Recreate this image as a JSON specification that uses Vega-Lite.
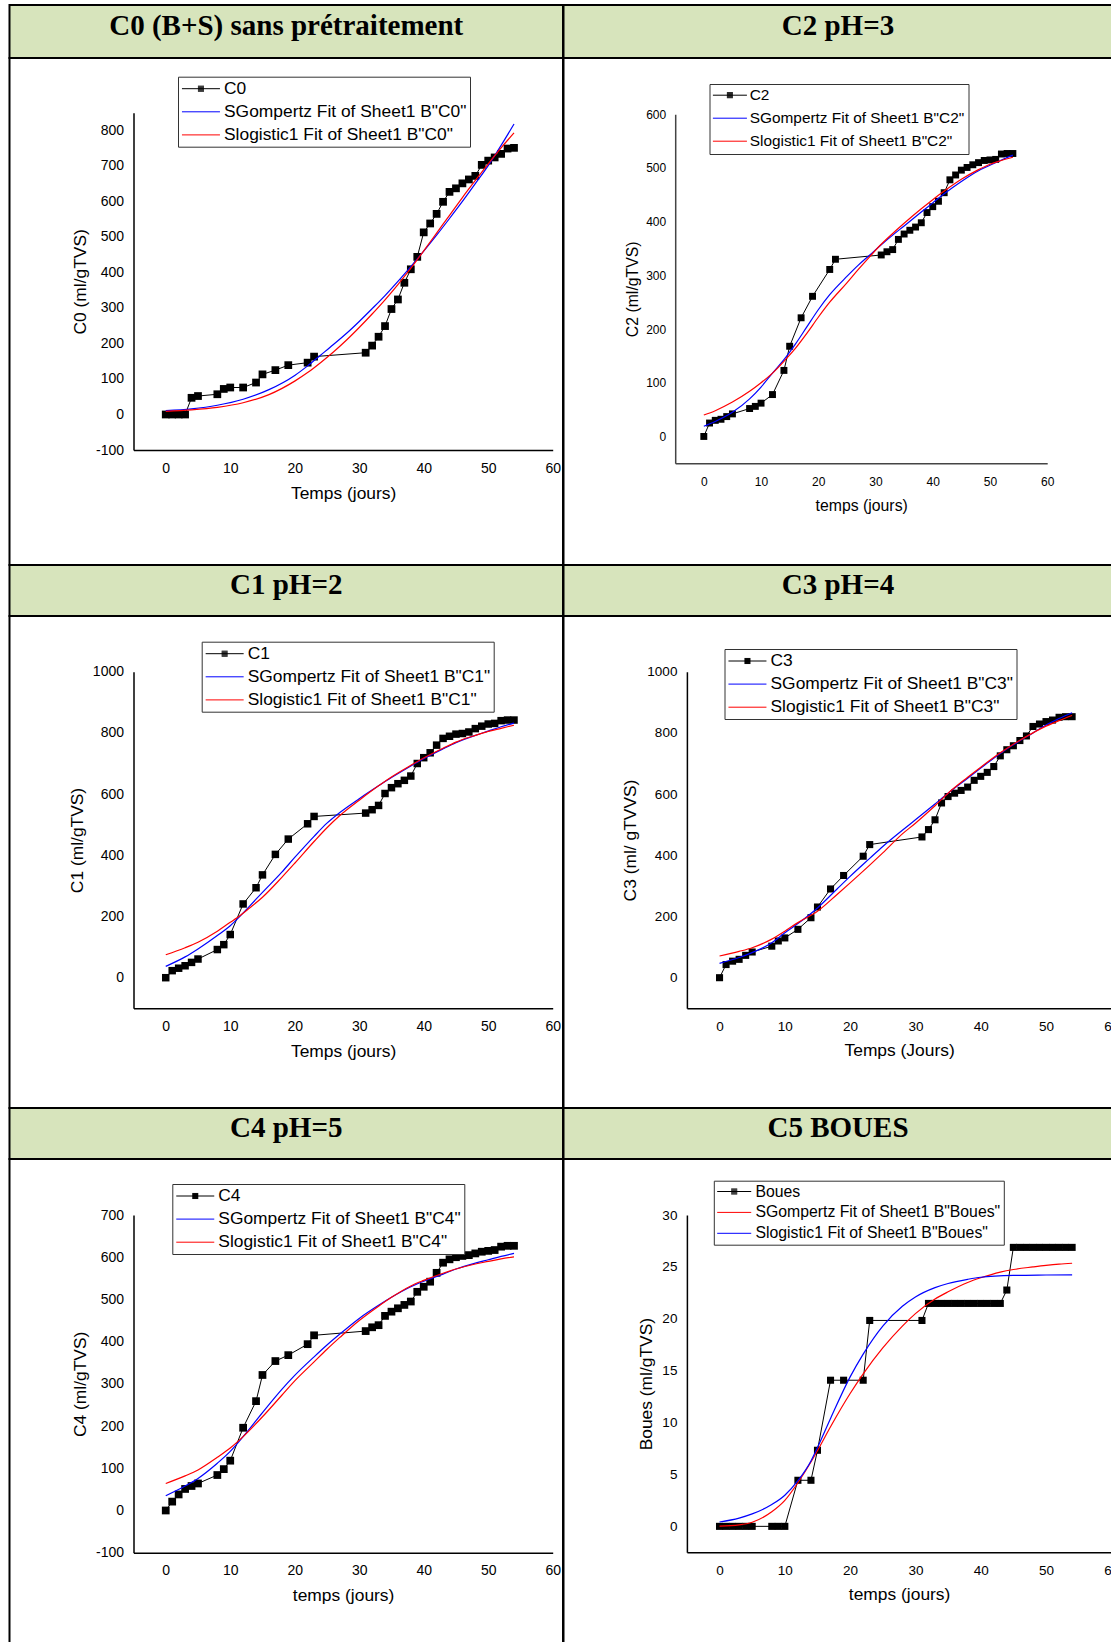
{
  "$schema": "https://vega.github.io/schema/vega-lite/v6.json",
  "background": "white",
  "padding": {"left": 8.5, "top": 4, "right": 0, "bottom": 0},
  "columns": 2,
  "spacing": 0,
  "align": "each",
  "bounds": "flush",
  "resolve": {"scale": {"color": "independent"}, "legend": {"color": "independent"}},
  "config": {
    "view": {"stroke": null},
    "axis": {"grid": false, "ticks": false, "tickSize": 0, "domainColor": "#000", "domainWidth": 1.5, "labelColor": "#000", "labelFont": "Liberation Sans", "labelFontSize": 14, "titleFont": "Liberation Sans", "titleFontWeight": "normal", "titleFontSize": 17.4, "titleColor": "#000", "labelFlush": false, "labelOverlap": false, "labelBound": false},
    "axisX": {"labelPadding": 11, "titlePadding": 9},
    "axisY": {"labelPadding": 10, "titlePadding": 6},
    "legend": {"labelFont": "Liberation Sans", "labelColor": "#000", "labelLimit": 500, "strokeColor": "#333", "fillColor": "#fff", "symbolStrokeWidth": 1, "symbolOpacity": 1}
  },
  "datasets": {
    "c0": [
      {"t":0,"v":0,"s":"data"},{"t":1,"v":0,"s":"data"},{"t":2,"v":0,"s":"data"},{"t":3,"v":0,"s":"data"},{"t":4,"v":47,"s":"data"},{"t":5,"v":52,"s":"data"},{"t":8,"v":57,"s":"data"},{"t":9,"v":72,"s":"data"},{"t":10,"v":76,"s":"data"},{"t":12,"v":76,"s":"data"},{"t":14,"v":90,"s":"data"},{"t":15,"v":113,"s":"data"},{"t":17,"v":125,"s":"data"},{"t":19,"v":139,"s":"data"},{"t":22,"v":146,"s":"data"},{"t":23,"v":163,"s":"data"},{"t":31,"v":174,"s":"data"},{"t":32,"v":194,"s":"data"},{"t":33,"v":219,"s":"data"},{"t":34,"v":249,"s":"data"},{"t":35,"v":297,"s":"data"},{"t":36,"v":324,"s":"data"},{"t":37,"v":371,"s":"data"},{"t":38,"v":409,"s":"data"},{"t":39,"v":444,"s":"data"},{"t":40,"v":513,"s":"data"},{"t":41,"v":538,"s":"data"},{"t":42,"v":565,"s":"data"},{"t":43,"v":599,"s":"data"},{"t":44,"v":627,"s":"data"},{"t":45,"v":637,"s":"data"},{"t":46,"v":651,"s":"data"},{"t":47,"v":662,"s":"data"},{"t":48,"v":672,"s":"data"},{"t":49,"v":703,"s":"data"},{"t":50,"v":715,"s":"data"},{"t":51,"v":724,"s":"data"},{"t":52,"v":734,"s":"data"},{"t":53,"v":749,"s":"data"},{"t":54,"v":751,"s":"data"},
      {"t":0,"v":11,"s":"SGompertz"},{"t":4,"v":16,"s":"SGompertz"},{"t":8,"v":26,"s":"SGompertz"},{"t":12,"v":43,"s":"SGompertz"},{"t":16,"v":70,"s":"SGompertz"},{"t":20,"v":110,"s":"SGompertz"},{"t":22,"v":137,"s":"SGompertz"},{"t":24,"v":167,"s":"SGompertz"},{"t":26,"v":197,"s":"SGompertz"},{"t":28,"v":228,"s":"SGompertz"},{"t":30,"v":262,"s":"SGompertz"},{"t":32,"v":298,"s":"SGompertz"},{"t":34,"v":335,"s":"SGompertz"},{"t":36,"v":375,"s":"SGompertz"},{"t":37.5,"v":406,"s":"SGompertz"},{"t":40,"v":460,"s":"SGompertz"},{"t":42,"v":505,"s":"SGompertz"},{"t":44,"v":552,"s":"SGompertz"},{"t":46,"v":600,"s":"SGompertz"},{"t":48,"v":650,"s":"SGompertz"},{"t":50,"v":701,"s":"SGompertz"},{"t":52,"v":758,"s":"SGompertz"},{"t":54,"v":818,"s":"SGompertz"},
      {"t":0,"v":9,"s":"Slogistic1"},{"t":4,"v":13,"s":"Slogistic1"},{"t":8,"v":20,"s":"Slogistic1"},{"t":12,"v":33,"s":"Slogistic1"},{"t":16,"v":56,"s":"Slogistic1"},{"t":20,"v":94,"s":"Slogistic1"},{"t":22,"v":118,"s":"Slogistic1"},{"t":24,"v":146,"s":"Slogistic1"},{"t":26,"v":176,"s":"Slogistic1"},{"t":28,"v":209,"s":"Slogistic1"},{"t":30,"v":245,"s":"Slogistic1"},{"t":32,"v":283,"s":"Slogistic1"},{"t":34,"v":323,"s":"Slogistic1"},{"t":36,"v":366,"s":"Slogistic1"},{"t":37.5,"v":400,"s":"Slogistic1"},{"t":40,"v":461,"s":"Slogistic1"},{"t":42,"v":511,"s":"Slogistic1"},{"t":44,"v":561,"s":"Slogistic1"},{"t":46,"v":611,"s":"Slogistic1"},{"t":48,"v":659,"s":"Slogistic1"},{"t":50,"v":706,"s":"Slogistic1"},{"t":52,"v":751,"s":"Slogistic1"},{"t":54,"v":793,"s":"Slogistic1"}
    ],
    "c2": [
      {"t":0,"v":0,"s":"data"},{"t":1,"v":25,"s":"data"},{"t":2,"v":30,"s":"data"},{"t":3,"v":32,"s":"data"},{"t":4,"v":37,"s":"data"},{"t":5,"v":42,"s":"data"},{"t":8,"v":52,"s":"data"},{"t":9,"v":56,"s":"data"},{"t":10,"v":62,"s":"data"},{"t":12,"v":78,"s":"data"},{"t":14,"v":123,"s":"data"},{"t":15,"v":168,"s":"data"},{"t":17,"v":221,"s":"data"},{"t":19,"v":261,"s":"data"},{"t":22,"v":311,"s":"data"},{"t":23,"v":330,"s":"data"},{"t":31,"v":338,"s":"data"},{"t":32,"v":344,"s":"data"},{"t":33,"v":348,"s":"data"},{"t":34,"v":367,"s":"data"},{"t":35,"v":377,"s":"data"},{"t":36,"v":384,"s":"data"},{"t":37,"v":390,"s":"data"},{"t":38,"v":398,"s":"data"},{"t":39,"v":417,"s":"data"},{"t":40,"v":428,"s":"data"},{"t":41,"v":438,"s":"data"},{"t":42,"v":454,"s":"data"},{"t":43,"v":478,"s":"data"},{"t":44,"v":487,"s":"data"},{"t":45,"v":496,"s":"data"},{"t":46,"v":501,"s":"data"},{"t":47,"v":506,"s":"data"},{"t":48,"v":510,"s":"data"},{"t":49,"v":514,"s":"data"},{"t":50,"v":515,"s":"data"},{"t":51,"v":516,"s":"data"},{"t":52,"v":526,"s":"data"},{"t":53,"v":527,"s":"data"},{"t":54,"v":527,"s":"data"},
      {"t":0,"v":19,"s":"SGompertz"},{"t":2,"v":28,"s":"SGompertz"},{"t":5,"v":45,"s":"SGompertz"},{"t":8,"v":70,"s":"SGompertz"},{"t":10,"v":92,"s":"SGompertz"},{"t":12,"v":118,"s":"SGompertz"},{"t":14,"v":143,"s":"SGompertz"},{"t":16,"v":172,"s":"SGompertz"},{"t":18,"v":204,"s":"SGompertz"},{"t":20,"v":236,"s":"SGompertz"},{"t":22,"v":264,"s":"SGompertz"},{"t":25,"v":298,"s":"SGompertz"},{"t":27,"v":319,"s":"SGompertz"},{"t":29,"v":338,"s":"SGompertz"},{"t":31,"v":357,"s":"SGompertz"},{"t":33,"v":375,"s":"SGompertz"},{"t":35,"v":392,"s":"SGompertz"},{"t":38,"v":418,"s":"SGompertz"},{"t":40,"v":435,"s":"SGompertz"},{"t":42,"v":452,"s":"SGompertz"},{"t":45,"v":475,"s":"SGompertz"},{"t":48,"v":495,"s":"SGompertz"},{"t":50,"v":505,"s":"SGompertz"},{"t":52,"v":515,"s":"SGompertz"},{"t":54,"v":524,"s":"SGompertz"},
      {"t":0,"v":40,"s":"Slogistic1"},{"t":2,"v":48,"s":"Slogistic1"},{"t":5,"v":64,"s":"Slogistic1"},{"t":8,"v":84,"s":"Slogistic1"},{"t":10,"v":100,"s":"Slogistic1"},{"t":12,"v":118,"s":"Slogistic1"},{"t":14,"v":140,"s":"Slogistic1"},{"t":16,"v":164,"s":"Slogistic1"},{"t":18,"v":192,"s":"Slogistic1"},{"t":20,"v":222,"s":"Slogistic1"},{"t":22,"v":250,"s":"Slogistic1"},{"t":25,"v":286,"s":"Slogistic1"},{"t":27,"v":311,"s":"Slogistic1"},{"t":29,"v":335,"s":"Slogistic1"},{"t":31,"v":358,"s":"Slogistic1"},{"t":33,"v":378,"s":"Slogistic1"},{"t":35,"v":397,"s":"Slogistic1"},{"t":38,"v":424,"s":"Slogistic1"},{"t":40,"v":441,"s":"Slogistic1"},{"t":42,"v":457,"s":"Slogistic1"},{"t":45,"v":479,"s":"Slogistic1"},{"t":48,"v":497,"s":"Slogistic1"},{"t":50,"v":507,"s":"Slogistic1"},{"t":52,"v":514,"s":"Slogistic1"},{"t":54,"v":520,"s":"Slogistic1"}
    ],
    "c1": [
      {"t":0,"v":0,"s":"data"},{"t":1,"v":23,"s":"data"},{"t":2,"v":31,"s":"data"},{"t":3,"v":39,"s":"data"},{"t":4,"v":50,"s":"data"},{"t":5,"v":61,"s":"data"},{"t":8,"v":92,"s":"data"},{"t":9,"v":108,"s":"data"},{"t":10,"v":141,"s":"data"},{"t":12,"v":241,"s":"data"},{"t":14,"v":294,"s":"data"},{"t":15,"v":336,"s":"data"},{"t":17,"v":403,"s":"data"},{"t":19,"v":453,"s":"data"},{"t":22,"v":503,"s":"data"},{"t":23,"v":527,"s":"data"},{"t":31,"v":538,"s":"data"},{"t":32,"v":549,"s":"data"},{"t":33,"v":563,"s":"data"},{"t":34,"v":602,"s":"data"},{"t":35,"v":621,"s":"data"},{"t":36,"v":634,"s":"data"},{"t":37,"v":645,"s":"data"},{"t":38,"v":659,"s":"data"},{"t":39,"v":700,"s":"data"},{"t":40,"v":719,"s":"data"},{"t":41,"v":735,"s":"data"},{"t":42,"v":760,"s":"data"},{"t":43,"v":782,"s":"data"},{"t":44,"v":789,"s":"data"},{"t":45,"v":796,"s":"data"},{"t":46,"v":798,"s":"data"},{"t":47,"v":803,"s":"data"},{"t":48,"v":814,"s":"data"},{"t":49,"v":822,"s":"data"},{"t":50,"v":829,"s":"data"},{"t":51,"v":831,"s":"data"},{"t":52,"v":840,"s":"data"},{"t":53,"v":842,"s":"data"},{"t":54,"v":842,"s":"data"},
      {"t":0,"v":37,"s":"SGompertz"},{"t":3,"v":68,"s":"SGompertz"},{"t":5,"v":94,"s":"SGompertz"},{"t":8,"v":138,"s":"SGompertz"},{"t":10,"v":170,"s":"SGompertz"},{"t":11,"v":190,"s":"SGompertz"},{"t":13,"v":234,"s":"SGompertz"},{"t":15,"v":279,"s":"SGompertz"},{"t":18,"v":345,"s":"SGompertz"},{"t":20,"v":393,"s":"SGompertz"},{"t":23,"v":462,"s":"SGompertz"},{"t":25,"v":505,"s":"SGompertz"},{"t":27,"v":540,"s":"SGompertz"},{"t":30,"v":585,"s":"SGompertz"},{"t":33,"v":627,"s":"SGompertz"},{"t":35,"v":654,"s":"SGompertz"},{"t":38,"v":692,"s":"SGompertz"},{"t":40,"v":716,"s":"SGompertz"},{"t":43,"v":748,"s":"SGompertz"},{"t":45,"v":768,"s":"SGompertz"},{"t":48,"v":792,"s":"SGompertz"},{"t":50,"v":806,"s":"SGompertz"},{"t":52,"v":820,"s":"SGompertz"},{"t":54,"v":832,"s":"SGompertz"},
      {"t":0,"v":75,"s":"Slogistic1"},{"t":3,"v":98,"s":"Slogistic1"},{"t":5,"v":116,"s":"Slogistic1"},{"t":8,"v":152,"s":"Slogistic1"},{"t":10,"v":181,"s":"Slogistic1"},{"t":11,"v":195,"s":"Slogistic1"},{"t":13,"v":228,"s":"Slogistic1"},{"t":15,"v":263,"s":"Slogistic1"},{"t":18,"v":328,"s":"Slogistic1"},{"t":20,"v":374,"s":"Slogistic1"},{"t":23,"v":445,"s":"Slogistic1"},{"t":25,"v":490,"s":"Slogistic1"},{"t":27,"v":530,"s":"Slogistic1"},{"t":30,"v":580,"s":"Slogistic1"},{"t":33,"v":627,"s":"Slogistic1"},{"t":35,"v":656,"s":"Slogistic1"},{"t":38,"v":694,"s":"Slogistic1"},{"t":40,"v":718,"s":"Slogistic1"},{"t":43,"v":750,"s":"Slogistic1"},{"t":45,"v":770,"s":"Slogistic1"},{"t":48,"v":792,"s":"Slogistic1"},{"t":50,"v":805,"s":"Slogistic1"},{"t":52,"v":815,"s":"Slogistic1"},{"t":54,"v":825,"s":"Slogistic1"}
    ],
    "c3": [
      {"t":0,"v":0,"s":"data"},{"t":1,"v":43,"s":"data"},{"t":2,"v":54,"s":"data"},{"t":3,"v":60,"s":"data"},{"t":4,"v":73,"s":"data"},{"t":5,"v":84,"s":"data"},{"t":8,"v":103,"s":"data"},{"t":9,"v":120,"s":"data"},{"t":10,"v":130,"s":"data"},{"t":12,"v":158,"s":"data"},{"t":14,"v":196,"s":"data"},{"t":15,"v":231,"s":"data"},{"t":17,"v":290,"s":"data"},{"t":19,"v":334,"s":"data"},{"t":22,"v":397,"s":"data"},{"t":23,"v":435,"s":"data"},{"t":31,"v":460,"s":"data"},{"t":32,"v":484,"s":"data"},{"t":33,"v":516,"s":"data"},{"t":34,"v":571,"s":"data"},{"t":35,"v":592,"s":"data"},{"t":36,"v":603,"s":"data"},{"t":37,"v":612,"s":"data"},{"t":38,"v":623,"s":"data"},{"t":39,"v":645,"s":"data"},{"t":40,"v":658,"s":"data"},{"t":41,"v":671,"s":"data"},{"t":42,"v":690,"s":"data"},{"t":43,"v":725,"s":"data"},{"t":44,"v":745,"s":"data"},{"t":45,"v":758,"s":"data"},{"t":46,"v":775,"s":"data"},{"t":47,"v":790,"s":"data"},{"t":48,"v":821,"s":"data"},{"t":49,"v":829,"s":"data"},{"t":50,"v":837,"s":"data"},{"t":51,"v":842,"s":"data"},{"t":52,"v":851,"s":"data"},{"t":53,"v":853,"s":"data"},{"t":54,"v":853,"s":"data"},
      {"t":0,"v":47,"s":"SGompertz"},{"t":3,"v":66,"s":"SGompertz"},{"t":5,"v":82,"s":"SGompertz"},{"t":8,"v":114,"s":"SGompertz"},{"t":10,"v":147,"s":"SGompertz"},{"t":12,"v":177,"s":"SGompertz"},{"t":15,"v":228,"s":"SGompertz"},{"t":18,"v":290,"s":"SGompertz"},{"t":20,"v":331,"s":"SGompertz"},{"t":23,"v":390,"s":"SGompertz"},{"t":25,"v":429,"s":"SGompertz"},{"t":28,"v":482,"s":"SGompertz"},{"t":30,"v":516,"s":"SGompertz"},{"t":33,"v":568,"s":"SGompertz"},{"t":35,"v":603,"s":"SGompertz"},{"t":38,"v":652,"s":"SGompertz"},{"t":40,"v":685,"s":"SGompertz"},{"t":43,"v":733,"s":"SGompertz"},{"t":45,"v":761,"s":"SGompertz"},{"t":48,"v":800,"s":"SGompertz"},{"t":50,"v":826,"s":"SGompertz"},{"t":52,"v":847,"s":"SGompertz"},{"t":54,"v":866,"s":"SGompertz"},
      {"t":0,"v":71,"s":"Slogistic1"},{"t":3,"v":86,"s":"Slogistic1"},{"t":5,"v":98,"s":"Slogistic1"},{"t":8,"v":126,"s":"Slogistic1"},{"t":10,"v":152,"s":"Slogistic1"},{"t":12,"v":180,"s":"Slogistic1"},{"t":15,"v":217,"s":"Slogistic1"},{"t":18,"v":272,"s":"Slogistic1"},{"t":20,"v":310,"s":"Slogistic1"},{"t":23,"v":368,"s":"Slogistic1"},{"t":25,"v":408,"s":"Slogistic1"},{"t":28,"v":470,"s":"Slogistic1"},{"t":30,"v":505,"s":"Slogistic1"},{"t":33,"v":562,"s":"Slogistic1"},{"t":35,"v":603,"s":"Slogistic1"},{"t":38,"v":655,"s":"Slogistic1"},{"t":40,"v":688,"s":"Slogistic1"},{"t":43,"v":735,"s":"Slogistic1"},{"t":45,"v":763,"s":"Slogistic1"},{"t":48,"v":800,"s":"Slogistic1"},{"t":50,"v":822,"s":"Slogistic1"},{"t":52,"v":840,"s":"Slogistic1"},{"t":54,"v":857,"s":"Slogistic1"}
    ],
    "c4": [
      {"t":0,"v":0,"s":"data"},{"t":1,"v":21,"s":"data"},{"t":2,"v":38,"s":"data"},{"t":3,"v":51,"s":"data"},{"t":4,"v":58,"s":"data"},{"t":5,"v":64,"s":"data"},{"t":8,"v":84,"s":"data"},{"t":9,"v":98,"s":"data"},{"t":10,"v":118,"s":"data"},{"t":12,"v":196,"s":"data"},{"t":14,"v":259,"s":"data"},{"t":15,"v":321,"s":"data"},{"t":17,"v":354,"s":"data"},{"t":19,"v":368,"s":"data"},{"t":22,"v":394,"s":"data"},{"t":23,"v":415,"s":"data"},{"t":31,"v":425,"s":"data"},{"t":32,"v":434,"s":"data"},{"t":33,"v":439,"s":"data"},{"t":34,"v":461,"s":"data"},{"t":35,"v":471,"s":"data"},{"t":36,"v":479,"s":"data"},{"t":37,"v":487,"s":"data"},{"t":38,"v":495,"s":"data"},{"t":39,"v":518,"s":"data"},{"t":40,"v":530,"s":"data"},{"t":41,"v":542,"s":"data"},{"t":42,"v":563,"s":"data"},{"t":43,"v":587,"s":"data"},{"t":44,"v":595,"s":"data"},{"t":45,"v":600,"s":"data"},{"t":46,"v":603,"s":"data"},{"t":47,"v":605,"s":"data"},{"t":48,"v":609,"s":"data"},{"t":49,"v":613,"s":"data"},{"t":50,"v":615,"s":"data"},{"t":51,"v":617,"s":"data"},{"t":52,"v":625,"s":"data"},{"t":53,"v":627,"s":"data"},{"t":54,"v":627,"s":"data"},
      {"t":0,"v":35,"s":"SGompertz"},{"t":3,"v":58,"s":"SGompertz"},{"t":5,"v":76,"s":"SGompertz"},{"t":8,"v":112,"s":"SGompertz"},{"t":10,"v":140,"s":"SGompertz"},{"t":12,"v":175,"s":"SGompertz"},{"t":15,"v":232,"s":"SGompertz"},{"t":18,"v":287,"s":"SGompertz"},{"t":20,"v":320,"s":"SGompertz"},{"t":23,"v":364,"s":"SGompertz"},{"t":25,"v":392,"s":"SGompertz"},{"t":27,"v":418,"s":"SGompertz"},{"t":30,"v":455,"s":"SGompertz"},{"t":33,"v":486,"s":"SGompertz"},{"t":35,"v":505,"s":"SGompertz"},{"t":38,"v":530,"s":"SGompertz"},{"t":40,"v":543,"s":"SGompertz"},{"t":43,"v":560,"s":"SGompertz"},{"t":45,"v":572,"s":"SGompertz"},{"t":48,"v":586,"s":"SGompertz"},{"t":50,"v":594,"s":"SGompertz"},{"t":52,"v":602,"s":"SGompertz"},{"t":54,"v":609,"s":"SGompertz"},
      {"t":0,"v":64,"s":"Slogistic1"},{"t":3,"v":82,"s":"Slogistic1"},{"t":5,"v":96,"s":"Slogistic1"},{"t":8,"v":126,"s":"Slogistic1"},{"t":10,"v":148,"s":"Slogistic1"},{"t":12,"v":175,"s":"Slogistic1"},{"t":15,"v":222,"s":"Slogistic1"},{"t":18,"v":273,"s":"Slogistic1"},{"t":20,"v":307,"s":"Slogistic1"},{"t":23,"v":352,"s":"Slogistic1"},{"t":25,"v":382,"s":"Slogistic1"},{"t":27,"v":410,"s":"Slogistic1"},{"t":30,"v":450,"s":"Slogistic1"},{"t":33,"v":484,"s":"Slogistic1"},{"t":35,"v":505,"s":"Slogistic1"},{"t":38,"v":532,"s":"Slogistic1"},{"t":40,"v":545,"s":"Slogistic1"},{"t":43,"v":562,"s":"Slogistic1"},{"t":45,"v":572,"s":"Slogistic1"},{"t":48,"v":584,"s":"Slogistic1"},{"t":50,"v":590,"s":"Slogistic1"},{"t":52,"v":596,"s":"Slogistic1"},{"t":54,"v":601,"s":"Slogistic1"}
    ],
    "c5": [
      {"t":0,"v":0,"s":"data"},{"t":1,"v":0,"s":"data"},{"t":2,"v":0,"s":"data"},{"t":3,"v":0,"s":"data"},{"t":4,"v":0,"s":"data"},{"t":5,"v":0,"s":"data"},{"t":8,"v":0,"s":"data"},{"t":9,"v":0,"s":"data"},{"t":10,"v":0,"s":"data"},{"t":12,"v":4.44,"s":"data"},{"t":14,"v":4.44,"s":"data"},{"t":15,"v":7.33,"s":"data"},{"t":17,"v":14.08,"s":"data"},{"t":19,"v":14.08,"s":"data"},{"t":22,"v":14.08,"s":"data"},{"t":23,"v":19.84,"s":"data"},{"t":31,"v":19.84,"s":"data"},{"t":32,"v":21.48,"s":"data"},{"t":33,"v":21.48,"s":"data"},{"t":34,"v":21.48,"s":"data"},{"t":35,"v":21.48,"s":"data"},{"t":36,"v":21.48,"s":"data"},{"t":37,"v":21.48,"s":"data"},{"t":38,"v":21.48,"s":"data"},{"t":39,"v":21.48,"s":"data"},{"t":40,"v":21.48,"s":"data"},{"t":41,"v":21.48,"s":"data"},{"t":42,"v":21.48,"s":"data"},{"t":43,"v":21.48,"s":"data"},{"t":44,"v":22.77,"s":"data"},{"t":45,"v":26.88,"s":"data"},{"t":46,"v":26.88,"s":"data"},{"t":47,"v":26.88,"s":"data"},{"t":48,"v":26.88,"s":"data"},{"t":49,"v":26.88,"s":"data"},{"t":50,"v":26.88,"s":"data"},{"t":51,"v":26.88,"s":"data"},{"t":52,"v":26.88,"s":"data"},{"t":53,"v":26.88,"s":"data"},{"t":54,"v":26.88,"s":"data"},
      {"t":0,"v":0.03,"s":"SGompertz"},{"t":3,"v":0.15,"s":"SGompertz"},{"t":5,"v":0.4,"s":"SGompertz"},{"t":8,"v":1.4,"s":"SGompertz"},{"t":10,"v":2.5,"s":"SGompertz"},{"t":12,"v":4.2,"s":"SGompertz"},{"t":14,"v":6.2,"s":"SGompertz"},{"t":15,"v":7.3,"s":"SGompertz"},{"t":17,"v":9.6,"s":"SGompertz"},{"t":20,"v":12.8,"s":"SGompertz"},{"t":22,"v":14.7,"s":"SGompertz"},{"t":25,"v":17.2,"s":"SGompertz"},{"t":28,"v":19.3,"s":"SGompertz"},{"t":30,"v":20.5,"s":"SGompertz"},{"t":33,"v":21.9,"s":"SGompertz"},{"t":35,"v":22.6,"s":"SGompertz"},{"t":38,"v":23.5,"s":"SGompertz"},{"t":40,"v":23.95,"s":"SGompertz"},{"t":43,"v":24.5,"s":"SGompertz"},{"t":45,"v":24.75,"s":"SGompertz"},{"t":48,"v":25.0,"s":"SGompertz"},{"t":50,"v":25.15,"s":"SGompertz"},{"t":52,"v":25.27,"s":"SGompertz"},{"t":54,"v":25.35,"s":"SGompertz"},
      {"t":0,"v":0.42,"s":"Slogistic1"},{"t":3,"v":0.8,"s":"Slogistic1"},{"t":5,"v":1.2,"s":"Slogistic1"},{"t":8,"v":2.1,"s":"Slogistic1"},{"t":10,"v":3.0,"s":"Slogistic1"},{"t":12,"v":4.4,"s":"Slogistic1"},{"t":14,"v":6.3,"s":"Slogistic1"},{"t":15,"v":7.6,"s":"Slogistic1"},{"t":17,"v":10.4,"s":"Slogistic1"},{"t":20,"v":14.4,"s":"Slogistic1"},{"t":22,"v":16.6,"s":"Slogistic1"},{"t":25,"v":19.3,"s":"Slogistic1"},{"t":28,"v":21.2,"s":"Slogistic1"},{"t":30,"v":22.1,"s":"Slogistic1"},{"t":33,"v":23.0,"s":"Slogistic1"},{"t":35,"v":23.4,"s":"Slogistic1"},{"t":38,"v":23.8,"s":"Slogistic1"},{"t":40,"v":24.0,"s":"Slogistic1"},{"t":45,"v":24.18,"s":"Slogistic1"},{"t":50,"v":24.22,"s":"Slogistic1"},{"t":54,"v":24.24,"s":"Slogistic1"}
    ]
  },
  "concat": [
    {"width": 553.5, "height": 53, "view": {"fill": "#d7e4bc", "stroke": "#000", "strokeWidth": 2},
     "data": {"values": [{"h": "C0 (B+S) sans prétraitement"}]},
     "mark": {"type": "text", "font": "Liberation Serif", "fontWeight": "bold", "fontSize": 29, "color": "#000", "baseline": "middle", "dy": -6},
     "encoding": {"text": {"field": "h", "type": "nominal"}}},
    {"width": 549, "height": 53, "view": {"fill": "#d7e4bc", "stroke": "#000", "strokeWidth": 2},
     "data": {"values": [{"h": "C2 pH=3"}]},
     "mark": {"type": "text", "font": "Liberation Serif", "fontWeight": "bold", "fontSize": 29, "color": "#000", "baseline": "middle", "dy": -6},
     "encoding": {"text": {"field": "h", "type": "nominal"}}},
    {"width": 553.5, "height": 507, "view": {"stroke": "#000", "strokeWidth": 2, "fill": "#fff"},
     "data": {"name": "c0"},
     "encoding": {
       "x": {"field": "t", "type": "quantitative", "scale": {"domain": [-5, 60], "range": [124, 543.2], "nice": false, "zero": false},
             "axis": {"values": [0,10,20,30,40,50,60], "labelExpr": "'' + datum.value", "title": "Temps (jours)", "offset": -115}},
       "y": {"field": "v", "type": "quantitative", "scale": {"domain": [-100, 850], "range": [392, 54.7], "nice": false, "zero": false},
             "axis": {"values": [-100,0,100,200,300,400,500,600,700,800], "labelExpr": "'' + datum.value", "title": "C0 (ml/gTVS)", "offset": -124}}
     },
     "layer": [
       {"transform": [{"filter": "datum.s == 'data'"}], "mark": {"type": "line", "strokeWidth": 1},
        "encoding": {"color": {"field": "s", "type": "nominal", "scale": {"domain": ["data","SGompertz","Slogistic1"], "range": ["#000","#0000ff","#ff0000"]},
          "legend": {"orient": "none", "legendX": 168.5, "legendY": 18.7, "title": null, "labelExpr": "datum.value == 'data' ? 'C0' : datum.value + ' Fit of Sheet1 B\"C0\"'", "symbolType": {"expr": "datum.value == 'data' ? 'M-1,0H4.4M1.27,-0.36H2.13M1.27,-0.21H2.13M1.27,-0.07H2.13M1.27,0.07H2.13M1.27,0.21H2.13M1.27,0.36H2.13' : 'M-1,0H4.4'"}, "symbolSize": 198, "symbolOffset": -1, "labelOffset": 26.3, "labelFontSize": 17.4, "padding": 3.3, "rowPadding": 4.1}}}},
       {"transform": [{"filter": "datum.s == 'data'"}], "mark": {"type": "point", "shape": "square", "filled": true, "size": 60, "color": "#000", "opacity": 1, "strokeWidth": 0}},
       {"transform": [{"filter": "datum.s != 'data'"}], "mark": {"type": "line", "strokeWidth": 1.2, "interpolate": "monotone"},
        "encoding": {"color": {"field": "s", "type": "nominal", "scale": {"domain": ["data","SGompertz","Slogistic1"], "range": ["#000","#0000ff","#ff0000"]},
          "legend": {"orient": "none", "legendX": 168.5, "legendY": 18.7, "title": null, "labelExpr": "datum.value == 'data' ? 'C0' : datum.value + ' Fit of Sheet1 B\"C0\"'", "symbolType": {"expr": "datum.value == 'data' ? 'M-1,0H4.4M1.27,-0.36H2.13M1.27,-0.21H2.13M1.27,-0.07H2.13M1.27,0.07H2.13M1.27,0.21H2.13M1.27,0.36H2.13' : 'M-1,0H4.4'"}, "symbolSize": 198, "symbolOffset": -1, "labelOffset": 26.3, "labelFontSize": 17.4, "padding": 3.3, "rowPadding": 4.1}}}}
     ]},
    {"width": 549, "height": 507, "view": {"stroke": "#000", "strokeWidth": 2, "fill": "#fff"},
     "data": {"name": "c2"},
     "encoding": {
       "x": {"field": "t", "type": "quantitative", "scale": {"domain": [-5, 60], "range": [111.7, 483.7], "nice": false, "zero": false},
             "axis": {"values": [0,10,20,30,40,50,60], "labelExpr": "'' + datum.value", "title": "temps (jours)", "offset": -101.7, "labelFontSize": 12, "titleFontSize": 15.8, "labelPadding": 13, "titlePadding": 11, "domainColor": "#444"}},
       "y": {"field": "v", "type": "quantitative", "scale": {"domain": [-50, 600], "range": [405.3, 56.3], "nice": false, "zero": false},
             "axis": {"values": [0,100,200,300,400,500,600], "labelExpr": "'' + datum.value", "title": "C2 (ml/gTVS)", "offset": -111.7, "labelFontSize": 12, "titleFontSize": 15.8, "labelPadding": 9.5, "titlePadding": 5, "domainColor": "#444"}}
     },
     "layer": [
       {"transform": [{"filter": "datum.s == 'data'"}], "mark": {"type": "line", "strokeWidth": 1},
        "encoding": {"color": {"field": "s", "type": "nominal", "scale": {"domain": ["data","SGompertz","Slogistic1"], "range": ["#000","#0000ff","#ff0000"]},
          "legend": {"orient": "none", "legendX": 146, "legendY": 26, "title": null, "labelExpr": "datum.value == 'data' ? 'C2' : datum.value + ' Fit of Sheet1 B\"C2\"'", "symbolType": {"expr": "datum.value == 'data' ? 'M-1,0H4.4M1.22,-0.4H2.18M1.22,-0.24H2.18M1.22,-0.08H2.18M1.22,0.08H2.18M1.22,0.24H2.18M1.22,0.4H2.18' : 'M-1,0H4.4'"}, "symbolSize": 158.8, "symbolOffset": -1.5, "labelOffset": 22.8, "labelFontSize": 15.4, "padding": 3.5, "rowPadding": 6}}}},
       {"transform": [{"filter": "datum.s == 'data'"}], "mark": {"type": "point", "shape": "square", "filled": true, "size": 48, "color": "#000", "opacity": 1, "strokeWidth": 0}},
       {"transform": [{"filter": "datum.s != 'data'"}], "mark": {"type": "line", "strokeWidth": 1.2, "interpolate": "monotone"},
        "encoding": {"color": {"field": "s", "type": "nominal", "scale": {"domain": ["data","SGompertz","Slogistic1"], "range": ["#000","#0000ff","#ff0000"]},
          "legend": {"orient": "none", "legendX": 146, "legendY": 26, "title": null, "labelExpr": "datum.value == 'data' ? 'C2' : datum.value + ' Fit of Sheet1 B\"C2\"'", "symbolType": {"expr": "datum.value == 'data' ? 'M-1,0H4.4M1.22,-0.4H2.18M1.22,-0.24H2.18M1.22,-0.08H2.18M1.22,0.08H2.18M1.22,0.24H2.18M1.22,0.4H2.18' : 'M-1,0H4.4'"}, "symbolSize": 158.8, "symbolOffset": -1.5, "labelOffset": 22.8, "labelFontSize": 15.4, "padding": 3.5, "rowPadding": 6}}}}
     ]},
    {"width": 553.5, "height": 51, "view": {"fill": "#d7e4bc", "stroke": "#000", "strokeWidth": 2},
     "data": {"values": [{"h": "C1 pH=2"}]},
     "mark": {"type": "text", "font": "Liberation Serif", "fontWeight": "bold", "fontSize": 29, "color": "#000", "baseline": "middle", "dy": -6},
     "encoding": {"text": {"field": "h", "type": "nominal"}}},
    {"width": 549, "height": 51, "view": {"fill": "#d7e4bc", "stroke": "#000", "strokeWidth": 2},
     "data": {"values": [{"h": "C3 pH=4"}]},
     "mark": {"type": "text", "font": "Liberation Serif", "fontWeight": "bold", "fontSize": 29, "color": "#000", "baseline": "middle", "dy": -6},
     "encoding": {"text": {"field": "h", "type": "nominal"}}},
    {"width": 553.5, "height": 492, "view": {"stroke": "#000", "strokeWidth": 2, "fill": "#fff"},
     "data": {"name": "c1"},
     "encoding": {
       "x": {"field": "t", "type": "quantitative", "scale": {"domain": [-5, 60], "range": [124, 543.2], "nice": false, "zero": false},
             "axis": {"values": [0,10,20,30,40,50,60], "labelExpr": "'' + datum.value", "title": "Temps (jours)", "offset": -99.7}},
       "y": {"field": "v", "type": "quantitative", "scale": {"domain": [-100, 1000], "range": [392.3, 55.7], "nice": false, "zero": false},
             "axis": {"values": [0,200,400,600,800,1000], "labelExpr": "'' + datum.value", "title": "C1 (ml/gTVS)", "offset": -124}}
     },
     "layer": [
       {"transform": [{"filter": "datum.s == 'data'"}], "mark": {"type": "line", "strokeWidth": 1},
        "encoding": {"color": {"field": "s", "type": "nominal", "scale": {"domain": ["data","SGompertz","Slogistic1"], "range": ["#000","#0000ff","#ff0000"]},
          "legend": {"orient": "none", "legendX": 192.2, "legendY": 25.7, "title": null, "labelExpr": "datum.value == 'data' ? 'C1' : datum.value + ' Fit of Sheet1 B\"C1\"'", "symbolType": {"expr": "datum.value == 'data' ? 'M-1,0H4.4M1.27,-0.36H2.13M1.27,-0.21H2.13M1.27,-0.07H2.13M1.27,0.07H2.13M1.27,0.21H2.13M1.27,0.36H2.13' : 'M-1,0H4.4'"}, "symbolSize": 198, "symbolOffset": -1, "labelOffset": 26.3, "labelFontSize": 17.4, "padding": 3.3, "rowPadding": 4.1}}}},
       {"transform": [{"filter": "datum.s == 'data'"}], "mark": {"type": "point", "shape": "square", "filled": true, "size": 56, "color": "#000", "opacity": 1, "strokeWidth": 0}},
       {"transform": [{"filter": "datum.s != 'data'"}], "mark": {"type": "line", "strokeWidth": 1.2, "interpolate": "monotone"},
        "encoding": {"color": {"field": "s", "type": "nominal", "scale": {"domain": ["data","SGompertz","Slogistic1"], "range": ["#000","#0000ff","#ff0000"]},
          "legend": {"orient": "none", "legendX": 192.2, "legendY": 25.7, "title": null, "labelExpr": "datum.value == 'data' ? 'C1' : datum.value + ' Fit of Sheet1 B\"C1\"'", "symbolType": {"expr": "datum.value == 'data' ? 'M-1,0H4.4M1.27,-0.36H2.13M1.27,-0.21H2.13M1.27,-0.07H2.13M1.27,0.07H2.13M1.27,0.21H2.13M1.27,0.36H2.13' : 'M-1,0H4.4'"}, "symbolSize": 198, "symbolOffset": -1, "labelOffset": 26.3, "labelFontSize": 17.4, "padding": 3.3, "rowPadding": 4.1}}}}
     ]},
    {"width": 549, "height": 492, "view": {"stroke": "#000", "strokeWidth": 2, "fill": "#fff"},
     "data": {"name": "c3"},
     "encoding": {
       "x": {"field": "t", "type": "quantitative", "scale": {"domain": [-5, 60], "range": [123.4, 547.8], "nice": false, "zero": false},
             "axis": {"values": [0,10,20,30,40,50,60], "labelExpr": "'' + datum.value", "title": "Temps (Jours)", "offset": -99.7, "labelFontSize": 13.5}},
       "y": {"field": "v", "type": "quantitative", "scale": {"domain": [-100, 1000], "range": [392.3, 55.7], "nice": false, "zero": false},
             "axis": {"values": [0,200,400,600,800,1000], "labelExpr": "'' + datum.value", "title": "C3 (ml/ gTVVS)", "offset": -123.4, "labelFontSize": 13.5, "titlePadding": 7}}
     },
     "layer": [
       {"transform": [{"filter": "datum.s == 'data'"}], "mark": {"type": "line", "strokeWidth": 1},
        "encoding": {"color": {"field": "s", "type": "nominal", "scale": {"domain": ["data","SGompertz","Slogistic1"], "range": ["#000","#0000ff","#ff0000"]},
          "legend": {"orient": "none", "legendX": 161, "legendY": 33, "title": null, "labelExpr": "datum.value == 'data' ? 'C3' : datum.value + ' Fit of Sheet1 B\"C3\"'", "symbolType": {"expr": "datum.value == 'data' ? 'M-1,0H4.4M1.27,-0.36H2.13M1.27,-0.21H2.13M1.27,-0.07H2.13M1.27,0.07H2.13M1.27,0.21H2.13M1.27,0.36H2.13' : 'M-1,0H4.4'"}, "symbolSize": 198, "symbolOffset": -1, "labelOffset": 26.3, "labelFontSize": 17.4, "padding": 3.3, "rowPadding": 4.1}}}},
       {"transform": [{"filter": "datum.s == 'data'"}], "mark": {"type": "point", "shape": "square", "filled": true, "size": 50, "color": "#000", "opacity": 1, "strokeWidth": 0}},
       {"transform": [{"filter": "datum.s != 'data'"}], "mark": {"type": "line", "strokeWidth": 1.2, "interpolate": "monotone"},
        "encoding": {"color": {"field": "s", "type": "nominal", "scale": {"domain": ["data","SGompertz","Slogistic1"], "range": ["#000","#0000ff","#ff0000"]},
          "legend": {"orient": "none", "legendX": 161, "legendY": 33, "title": null, "labelExpr": "datum.value == 'data' ? 'C3' : datum.value + ' Fit of Sheet1 B\"C3\"'", "symbolType": {"expr": "datum.value == 'data' ? 'M-1,0H4.4M1.27,-0.36H2.13M1.27,-0.21H2.13M1.27,-0.07H2.13M1.27,0.07H2.13M1.27,0.21H2.13M1.27,0.36H2.13' : 'M-1,0H4.4'"}, "symbolSize": 198, "symbolOffset": -1, "labelOffset": 26.3, "labelFontSize": 17.4, "padding": 3.3, "rowPadding": 4.1}}}}
     ]},
    {"width": 553.5, "height": 51, "view": {"fill": "#d7e4bc", "stroke": "#000", "strokeWidth": 2},
     "data": {"values": [{"h": "C4 pH=5"}]},
     "mark": {"type": "text", "font": "Liberation Serif", "fontWeight": "bold", "fontSize": 29, "color": "#000", "baseline": "middle", "dy": -6},
     "encoding": {"text": {"field": "h", "type": "nominal"}}},
    {"width": 549, "height": 51, "view": {"fill": "#d7e4bc", "stroke": "#000", "strokeWidth": 2},
     "data": {"values": [{"h": "C5 BOUES"}]},
     "mark": {"type": "text", "font": "Liberation Serif", "fontWeight": "bold", "fontSize": 29, "color": "#000", "baseline": "middle", "dy": -6},
     "encoding": {"text": {"field": "h", "type": "nominal"}}},
    {"width": 553.5, "height": 495, "view": {"stroke": "#000", "strokeWidth": 2, "fill": "#fff"},
     "data": {"name": "c4"},
     "encoding": {
       "x": {"field": "t", "type": "quantitative", "scale": {"domain": [-5, 60], "range": [124, 543.2], "nice": false, "zero": false},
             "axis": {"values": [0,10,20,30,40,50,60], "labelExpr": "'' + datum.value", "title": "temps (jours)", "offset": -101.3}},
       "y": {"field": "v", "type": "quantitative", "scale": {"domain": [-100, 700], "range": [393.7, 56], "nice": false, "zero": false},
             "axis": {"values": [-100,0,100,200,300,400,500,600,700], "labelExpr": "'' + datum.value", "title": "C4 (ml/gTVS)", "offset": -124}}
     },
     "layer": [
       {"transform": [{"filter": "datum.s == 'data'"}], "mark": {"type": "line", "strokeWidth": 1},
        "encoding": {"color": {"field": "s", "type": "nominal", "scale": {"domain": ["data","SGompertz","Slogistic1"], "range": ["#000","#0000ff","#ff0000"]},
          "legend": {"orient": "none", "legendX": 162.8, "legendY": 25, "title": null, "labelExpr": "datum.value == 'data' ? 'C4' : datum.value + ' Fit of Sheet1 B\"C4\"'", "symbolType": {"expr": "datum.value == 'data' ? 'M-1,0H4.4M1.27,-0.36H2.13M1.27,-0.21H2.13M1.27,-0.07H2.13M1.27,0.07H2.13M1.27,0.21H2.13M1.27,0.36H2.13' : 'M-1,0H4.4'"}, "symbolSize": 198, "symbolOffset": -1, "labelOffset": 26.3, "labelFontSize": 17.4, "padding": 3.3, "rowPadding": 4.1}}}},
       {"transform": [{"filter": "datum.s == 'data'"}], "mark": {"type": "point", "shape": "square", "filled": true, "size": 60, "color": "#000", "opacity": 1, "strokeWidth": 0}},
       {"transform": [{"filter": "datum.s != 'data'"}], "mark": {"type": "line", "strokeWidth": 1.2, "interpolate": "monotone"},
        "encoding": {"color": {"field": "s", "type": "nominal", "scale": {"domain": ["data","SGompertz","Slogistic1"], "range": ["#000","#0000ff","#ff0000"]},
          "legend": {"orient": "none", "legendX": 162.8, "legendY": 25, "title": null, "labelExpr": "datum.value == 'data' ? 'C4' : datum.value + ' Fit of Sheet1 B\"C4\"'", "symbolType": {"expr": "datum.value == 'data' ? 'M-1,0H4.4M1.27,-0.36H2.13M1.27,-0.21H2.13M1.27,-0.07H2.13M1.27,0.07H2.13M1.27,0.21H2.13M1.27,0.36H2.13' : 'M-1,0H4.4'"}, "symbolSize": 198, "symbolOffset": -1, "labelOffset": 26.3, "labelFontSize": 17.4, "padding": 3.3, "rowPadding": 4.1}}}}
     ]},
    {"width": 549, "height": 495, "view": {"stroke": "#000", "strokeWidth": 2, "fill": "#fff"},
     "data": {"name": "c5"},
     "encoding": {
       "x": {"field": "t", "type": "quantitative", "scale": {"domain": [-5, 60], "range": [123.4, 547.8], "nice": false, "zero": false},
             "axis": {"values": [0,10,20,30,40,50,60], "labelExpr": "'' + datum.value", "title": "temps (jours)", "offset": -101.7, "labelFontSize": 13.5}},
       "y": {"field": "v", "type": "quantitative", "scale": {"domain": [-2.5, 30], "range": [393.3, 56], "nice": false, "zero": false},
             "axis": {"values": [0,5,10,15,20,25,30], "labelExpr": "'' + datum.value", "title": "Boues (ml/gTVS)", "offset": -123.4, "labelFontSize": 13.5, "titlePadding": 6}}
     },
     "layer": [
       {"transform": [{"filter": "datum.s == 'data'"}], "mark": {"type": "line", "strokeWidth": 1},
        "encoding": {"color": {"field": "s", "type": "nominal", "scale": {"domain": ["data","SGompertz","Slogistic1"], "range": ["#000","#ff0000","#0000ff"]},
          "legend": {"orient": "none", "legendX": 150.3, "legendY": 21.7, "title": null, "labelExpr": "datum.value == 'data' ? 'Boues' : datum.value + ' Fit of Sheet1 B\"Boues\"'", "symbolType": {"expr": "datum.value == 'data' ? 'M-1,0H4.4M1.22,-0.4H2.18M1.22,-0.24H2.18M1.22,-0.08H2.18M1.22,0.08H2.18M1.22,0.24H2.18M1.22,0.4H2.18' : 'M-1,0H4.4'"}, "symbolSize": 158.8, "symbolOffset": -1.1, "labelOffset": 24, "labelFontSize": 15.8, "padding": 2.9, "rowPadding": 3.9}}}},
       {"transform": [{"filter": "datum.s == 'data'"}], "mark": {"type": "point", "shape": "square", "filled": true, "size": 50, "color": "#000", "opacity": 1, "strokeWidth": 0}},
       {"transform": [{"filter": "datum.s != 'data'"}], "mark": {"type": "line", "strokeWidth": 1.2, "interpolate": "monotone"},
        "encoding": {"color": {"field": "s", "type": "nominal", "scale": {"domain": ["data","SGompertz","Slogistic1"], "range": ["#000","#ff0000","#0000ff"]},
          "legend": {"orient": "none", "legendX": 150.3, "legendY": 21.7, "title": null, "labelExpr": "datum.value == 'data' ? 'Boues' : datum.value + ' Fit of Sheet1 B\"Boues\"'", "symbolType": {"expr": "datum.value == 'data' ? 'M-1,0H4.4M1.22,-0.4H2.18M1.22,-0.24H2.18M1.22,-0.08H2.18M1.22,0.08H2.18M1.22,0.24H2.18M1.22,0.4H2.18' : 'M-1,0H4.4'"}, "symbolSize": 158.8, "symbolOffset": -1.1, "labelOffset": 24, "labelFontSize": 15.8, "padding": 2.9, "rowPadding": 3.9}}}}
     ]}
  ]
}
